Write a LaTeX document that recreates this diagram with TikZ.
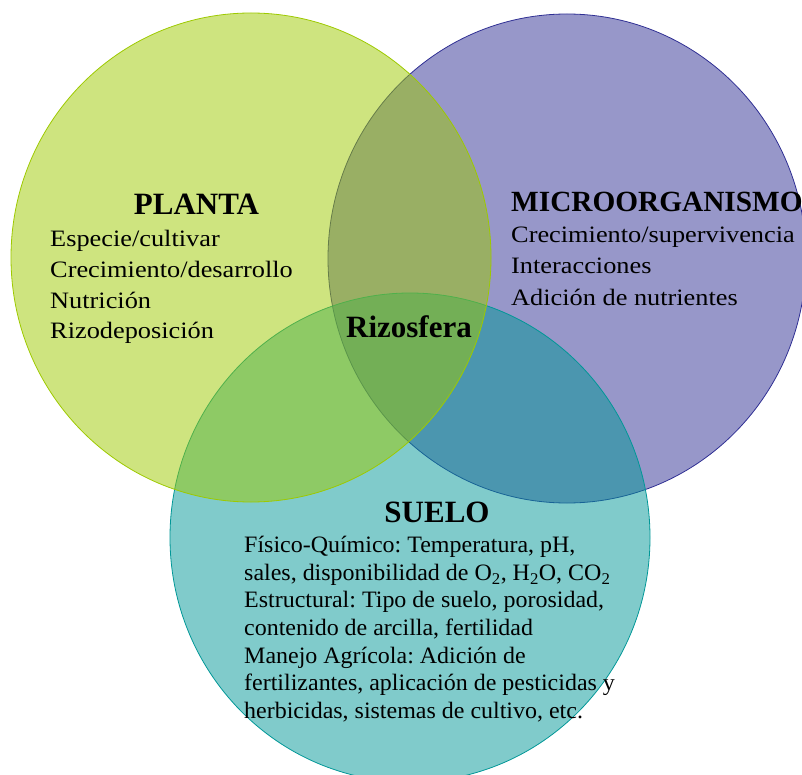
\documentclass[tikz,border=0pt]{standalone}
\usepackage{fontspec}
\setmainfont{Liberation Serif}
\newfontfamily\bodyfont{Liberation Serif}[FakeStretch=1.12]
\newfontfamily\suelofont{Liberation Serif}[FakeStretch=1.02]
\frenchspacing

\definecolor{plantacolor}{RGB}{157,201,0}
\definecolor{microcolor}{RGB}{47,47,147}
\definecolor{suelocolor}{RGB}{1,151,151}

\tikzset{
  circulo/.style={fill opacity=0.5, line width=0.8pt},
  titulo/.style={font=\fontsize{31}{31}\selectfont\bfseries, anchor=base, inner sep=0pt},
  texto/.style={font=\bodyfont\fontsize{23.5}{28}\selectfont, anchor=base west, inner sep=0pt},
  textosuelo/.style={texto, font=\suelofont\fontsize{23.5}{28}\selectfont},
}

\begin{document}
\begin{tikzpicture}[x=1pt, y=-1pt]
  \useasboundingbox (0,0) rectangle (802,775);

  % Microorganismo circle
  \filldraw[circulo, fill=microcolor, draw=microcolor] (567,258.5) ellipse [x radius=239pt, y radius=244.5pt];

  % Suelo circle
  \filldraw[circulo, fill=suelocolor, draw=suelocolor] (410,537.5) ellipse [x radius=240pt, y radius=244.5pt];

  % Planta circle
  \filldraw[circulo, fill=plantacolor, draw=plantacolor] (251,257.5) ellipse [x radius=240pt, y radius=244.5pt];

  % Planta text
  \node[titulo] (planta) at (196.5,214.5) {PLANTA};
  \foreach \t [count=\i] in {Especie/cultivar, Crecimiento/desarrollo, Nutrición, Rizodeposición}
    \node[texto] (pl\i) at (50,{247+30.6*(\i-1)}) {\t};

  % Microorganismo text
  \node[titulo, anchor=base west, font=\fontsize{29.3}{30}\selectfont\bfseries] (micro) at (511,211.7) {MICROORGANISMO};
  \foreach \t [count=\i] in {Crecimiento/supervivencia, Interacciones, Adición de nutrientes}
    \node[texto] (mi\i) at (511,{242.5+31.5*(\i-1)}) {\t};

  % Suelo text
  \node[titulo] (suelo) at (437,522) {SUELO};
  \foreach \t [count=\i] in {
      {Físico-Químico: Temperatura, pH,},
      {sales, disponibilidad de O\textsubscript{2}, H\textsubscript{2}O, CO\textsubscript{2}},
      {Estructural: Tipo de suelo, porosidad,},
      {contenido de arcilla, fertilidad},
      {Manejo Agrícola: Adición de},
      {fertilizantes, aplicación de pesticidas y},
      {herbicidas, sistemas de cultivo, etc.}}
    \node[textosuelo] (su\i) at (244,{552.7+27.6*(\i-1)}) {\t};

  % Centre
  \node[titulo] (rizosfera) at (409,337) {Rizosfera};
\end{tikzpicture}
\end{document}
